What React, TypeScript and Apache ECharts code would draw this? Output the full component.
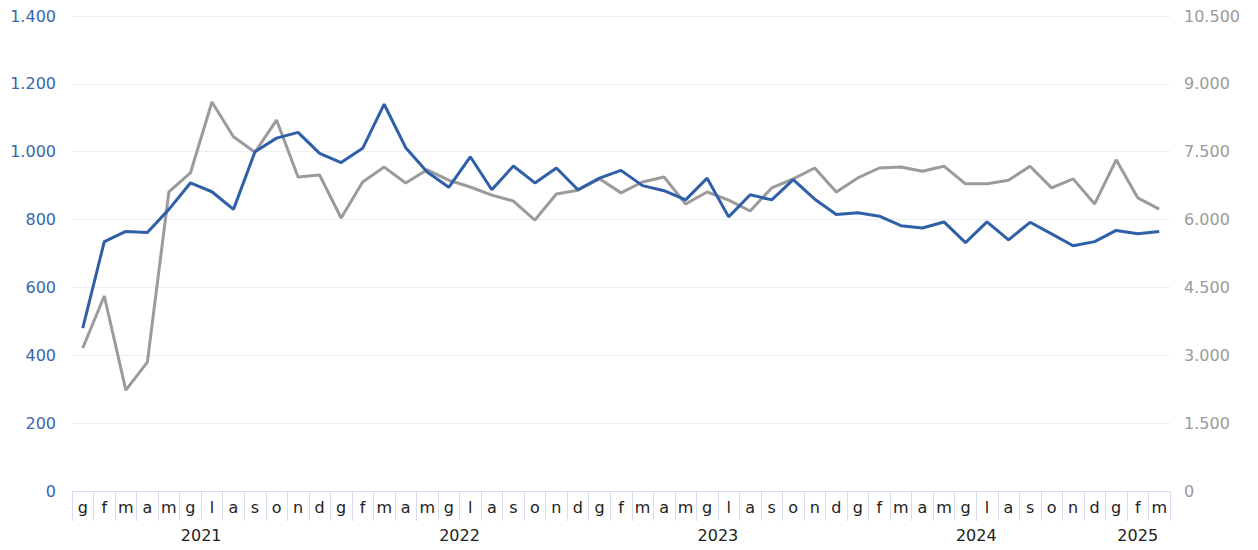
import React, { useEffect, useRef } from "react";
import * as echarts from "echarts";

const months = ["g","f","m","a","m","g","l","a","s","o","n","d"];
const years = ["2021", "2022", "2023", "2024", "2025"];
const monthsPerYear = [12, 12, 12, 12, 3];
const blueValues = [
  480, 735, 765, 762, 830, 908, 882, 830, 1000, 1040, 1057, 995,
  968, 1010, 1140, 1012, 940, 895, 985, 888, 958, 908, 952, 888,
  922, 945, 900, 885, 858, 922, 808, 873, 858, 918, 860, 815,
  820, 810, 782, 775, 793, 732, 793, 740, 792, 758, 723, 735,
  768, 758, 765,
];
const grayValues = [
  3160, 4310, 2230, 2850, 6610, 7030, 8600, 7830, 7490, 8200, 6940, 6985,
  6035, 6830, 7160, 6810, 7100, 6870, 6720, 6540, 6410, 5990, 6565, 6650,
  6900, 6590, 6830, 6940, 6345, 6610, 6430, 6190, 6700, 6900, 7140, 6610,
  6920, 7140, 7160, 7070, 7180, 6790, 6790, 6870, 7180, 6700, 6900, 6345,
  7320, 6480, 6230,
];

const fmt = (v: number) => String(v).replace(/\B(?=(\d{3})+(?!\d))/g, ".");

export default function App() {
  const ref = useRef<HTMLDivElement>(null);
  useEffect(() => {
    const chart = echarts.init(ref.current!, null, { renderer: "svg" });
    const cats: string[] = [];
    const yearCats: string[] = [];
    const yearStart: Record<number, boolean> = {};
    const yearLabelIdx: Record<number, string> = {};
    let idx = 0;
    years.forEach((y, yi) => {
      const n = monthsPerYear[yi];
      yearStart[idx] = true;
      yearLabelIdx[idx + Math.floor(n / 2)] = n % 2 === 0 ? "{e|" + y + "}" : "{o|" + y + "}";
      for (let k = 0; k < n; k++) {
        cats.push(months[k]);
        yearCats.push(y + "-" + k);
      }
      idx += n;
    });
    const catW = (1258 - 72 - 88) / cats.length;
    const axisColor = "#d6ddf0";
    chart.setOption({
      animation: false,
      grid: { left: 72, right: 88, top: 16, bottom: 59 },
      xAxis: [
        {
          type: "category", data: cats, position: "bottom",
          axisLine: { lineStyle: { color: axisColor } },
          axisTick: { show: true, interval: 0, length: 30, lineStyle: { color: axisColor } },
          axisLabel: { interval: 0, color: "#222", fontSize: 16, margin: 8, fontFamily: "DejaVu Sans" },
        },
        {
          type: "category", data: yearCats, position: "bottom", offset: 30,
          axisLine: { show: true, lineStyle: { color: axisColor, width: 1 } },
          axisTick: { show: true, interval: (i: number) => !!yearStart[i], length: 30, lineStyle: { color: axisColor } },
          axisLabel: {
            interval: 0, margin: 6,
            formatter: (_v: string, i: number) => yearLabelIdx[i] || "",
            rich: {
              e: { fontSize: 16, color: "#222", fontFamily: "DejaVu Sans", padding: [0, catW, 0, 0] },
              o: { fontSize: 16, color: "#222", fontFamily: "DejaVu Sans" },
            },
          },
        },
      ],
      yAxis: [
        {
          type: "value", min: 0, max: 1400, interval: 200,
          axisLabel: { color: "#3a66ae", fontSize: 16, fontFamily: "DejaVu Sans", formatter: fmt, margin: 16, align: "right" },
          splitLine: { lineStyle: { color: "#eceef4" } },
          axisLine: { show: false }, axisTick: { show: false },
        },
        {
          type: "value", min: 0, max: 10500, interval: 1500,
          axisLabel: { color: "#9a9a9a", fontSize: 16, fontFamily: "DejaVu Sans", formatter: fmt, margin: 14 },
          splitLine: { show: false }, axisLine: { show: false }, axisTick: { show: false },
        },
      ],
      series: [
        { type: "line", data: grayValues, yAxisIndex: 1, symbol: "none", lineStyle: { color: "#9b9b9b", width: 3 } },
        { type: "line", data: blueValues, yAxisIndex: 0, symbol: "none", lineStyle: { color: "#2f5fa7", width: 3 } },
      ],
    });
    return () => chart.dispose();
  }, []);
  return <div ref={ref} style={{ width: 1258, height: 550, position: "absolute", left: 0, top: 0 }} />;
}
